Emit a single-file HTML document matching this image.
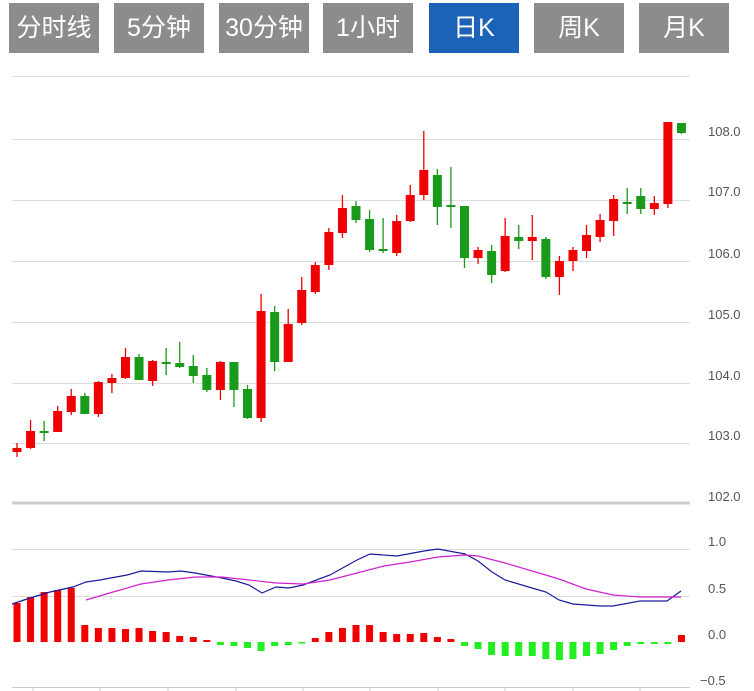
<!DOCTYPE html>
<html><head><meta charset="utf-8"><style>
body{margin:0;background:#fff;width:754px;height:691px;overflow:hidden;font-family:"Liberation Sans","Noto Sans CJK SC",sans-serif}
.b{position:absolute;top:3px;height:50px;width:90px;background:#8c8c8c;color:#fff;font-size:25px;line-height:50px;text-align:center}
.a{background:#1c63b7}
svg{position:absolute;left:0;top:0}
</style></head><body>
<div class="b" style="left:9px">分时线</div>
<div class="b" style="left:114px">5分钟</div>
<div class="b" style="left:219px">30分钟</div>
<div class="b" style="left:323px">1小时</div>
<div class="b a" style="left:429px">日K</div>
<div class="b" style="left:534px">周K</div>
<div class="b" style="left:639px">月K</div>
<svg id="s" width="754" height="691" xmlns="http://www.w3.org/2000/svg" font-family="Liberation Sans, sans-serif" font-size="13" fill="#555">
<g stroke="#ddd" stroke-width="1">
<line x1="12" x2="690" y1="76.5" y2="76.5"/><line x1="12" x2="690" y1="139.5" y2="139.5"/><line x1="12" x2="690" y1="200.5" y2="200.5"/><line x1="12" x2="690" y1="261.5" y2="261.5"/><line x1="12" x2="690" y1="322.5" y2="322.5"/><line x1="12" x2="690" y1="383.5" y2="383.5"/><line x1="12" x2="690" y1="443.5" y2="443.5"/>
<line x1="12" x2="690" y1="549.5" y2="549.5"/><line x1="12" x2="690" y1="596.5" y2="596.5"/>
</g>
<line x1="12" x2="690" y1="503" y2="503" stroke="#ccc" stroke-width="3"/>
<line x1="12" x2="690" y1="687.5" y2="687.5" stroke="#ccc"/>
<g id="tk" stroke="#ccc"></g>
<text x="708" y="136">108.0</text><text x="708" y="196">107.0</text><text x="708" y="258">106.0</text><text x="708" y="319">105.0</text><text x="708" y="380">104.0</text><text x="708" y="440">103.0</text><text x="708" y="501">102.0</text>
<text x="708" y="546">1.0</text><text x="708" y="593">0.5</text><text x="708" y="639">0.0</text><text x="700" y="685">−0.5</text>
<g id="c"></g>
<polyline fill="none" stroke="#1a1aa0" stroke-width="1.2" points="12,604 30,598 50,592 73,587 86,582 100,580 127,575 141,571 168,572 181,571 195,573 222,578 236,581 249,585 262,593 276,587 289,588 303,585 330,575 357,560 370,554 397,556 424,551 438,549 465,554 478,561 492,572 505,580 532,588 546,592 559,600 573,604 600,606 613,606 640,601 667,601 681,591"/>
<polyline fill="none" stroke="#d020d0" stroke-width="1.2" points="86,600 113,592 141,584 168,580 195,577 222,577 249,580 276,583 303,584 330,580 357,573 384,566 410,562 438,557 465,555 478,556 505,563 532,571 559,579 586,589 613,595 640,597 681,597"/>
</svg>
<script>
(function(){
var c=[[448,452,443,457,1],[431,448,420,449,1],[431,431,421,441,0],[411,432,406,432,1],[396,412,389,415,1],[396,414,393,414,0],[382,414,381,417,1],[378,383,374,393,1],[357,378,348,379,1],[357,380,354,380,0],[361,381,360,386,1],[362,362,348,375,0],[363,367,342,368,0],[366,376,355,383,0],[375,390,368,392,0],[362,390,361,400,1],[362,390,362,407,0],[389,418,385,419,0],[311,418,294,422,1],[312,362,306,371,0],[324,362,309,362,1],[290,323,277,325,1],[265,292,262,294,1],[232,265,228,270,1],[208,233,195,238,1],[206,220,201,223,0],[219,250,210,252,0],[249,249,218,253,0],[221,253,215,256,1],[195,221,185,222,1],[170,195,131,200,1],[175,207,169,225,0],[205,206,167,228,0],[206,258,206,268,0],[250,258,247,264,1],[251,275,245,283,0],[236,271,218,272,1],[237,241,225,249,0],[237,241,215,260,1],[239,277,237,279,0],[261,277,256,295,1],[250,261,247,271,1],[235,251,225,258,1],[220,237,214,242,1],[199,221,195,236,1],[202,202,188,214,0],[196,209,188,214,0],[203,209,196,215,1],[122,204,122,208,1],[123,133,123,134,0]];
var m=[603,597,592,590,588,625,628,628,629,628,631,632,636,637,640,645,646,648,651,646,645,643,638,632,628,625,625,632,634,634,633,637,639,646,649,655,656,656,656,659,660,659,656,654,650,646,644,644,644,635];
var h='';
for(var i=0;i<50;i++){var x=17+i*13.56,d=c[i],col=d[4]?'#f00000':'#1a9a1a';
h+='<line x1="'+x+'" x2="'+x+'" y1="'+d[2]+'" y2="'+d[3]+'" stroke="'+col+'" stroke-width="1.3"/>';
var hh=Math.max(d[1]-d[0],2);h+='<rect x="'+(x-4.5)+'" y="'+d[0]+'" width="9" height="'+hh+'" fill="'+col+'"/>';
var v=m[i],ty=Math.min(v,642),mh=Math.max(Math.abs(v-642),1.5),mc=v<=642?'#f00000':'#22ee22';
h+='<rect x="'+(x-3.5)+'" y="'+ty+'" width="7" height="'+mh+'" fill="'+mc+'"/>';}
document.getElementById('c').innerHTML=h;
var t='';[33,100,168,236,303,370,438,505,573,640].forEach(function(x){t+='<line x1="'+x+'" x2="'+x+'" y1="687" y2="691"/>';});
document.getElementById('tk').innerHTML=t;
})();
</script>
</body></html>
